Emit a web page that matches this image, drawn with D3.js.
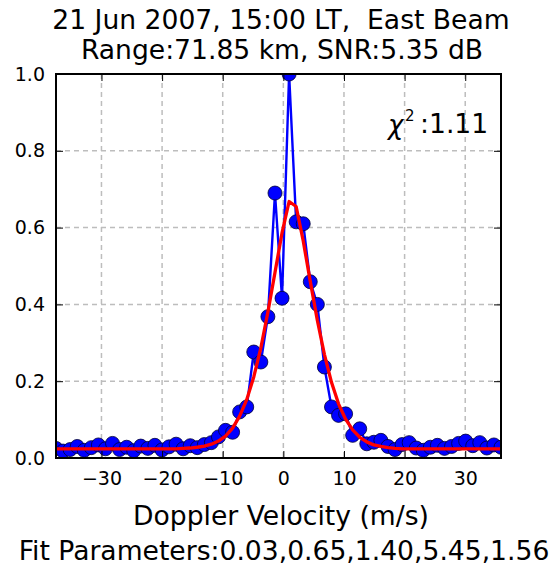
<!DOCTYPE html>
<html>
<head>
<meta charset="utf-8">
<script src="https://cdn.jsdelivr.net/npm/d3@7"></script>
<style>
  html, body { margin: 0; padding: 0; background: #fff; }
  svg { display: block; }
  text { font-family: "DejaVu Sans", sans-serif; fill: #000; white-space: pre; }
</style>
</head>
<body>
<div id="chart"></div>
<script>
// ---- data ----
const titleLines = ["21 Jun 2007, 15:00 LT,  East Beam", "Range:71.85 km, SNR:5.35 dB"];
const xLabel = "Doppler Velocity (m/s)";
const fitLabel = "Fit Parameters:0.03,0.65,1.40,5.45,1.56";
const chiValue = "1.11";

const velocity = [
  -37.50, -36.33, -35.17, -34.00, -32.84, -31.67, -30.51, -29.34, -28.18, -27.01,
  -25.85, -24.68, -23.52, -22.35, -21.19, -20.02, -18.86, -17.69, -16.53, -15.36,
  -14.20, -13.03, -11.87, -10.70, -9.54, -8.37, -7.21, -6.04, -4.88, -3.71,
  -2.55, -1.38, -0.22, 0.95, 2.11, 3.28, 4.44, 5.61, 6.77, 7.94,
  9.10, 10.27, 11.43, 12.60, 13.76, 14.93, 16.09, 17.26, 18.42, 19.59,
  20.75, 21.92, 23.08, 24.25, 25.41, 26.58, 27.74, 28.91, 30.07, 31.24,
  32.40, 33.57, 34.73, 35.90
];
const power = [
  0.025, 0.018, 0.022, 0.030, 0.020, 0.027, 0.034, 0.024, 0.038, 0.022,
  0.028, 0.019, 0.031, 0.025, 0.033, 0.021, 0.029, 0.036, 0.024, 0.032,
  0.027, 0.035, 0.040, 0.055, 0.072, 0.067, 0.120, 0.133, 0.276, 0.250,
  0.368, 0.690, 0.416, 1.000, 0.615, 0.610, 0.459, 0.400, 0.237, 0.133,
  0.111, 0.115, 0.059, 0.076, 0.037, 0.041, 0.046, 0.030, 0.022, 0.035,
  0.040, 0.026, 0.020, 0.028, 0.033, 0.025, 0.030, 0.038, 0.044, 0.032,
  0.040, 0.026, 0.034, 0.028
];
const fitCurve = [
  0.024, 0.024, 0.024, 0.024, 0.024, 0.024, 0.024, 0.024, 0.024, 0.024,
  0.024, 0.024, 0.024, 0.024, 0.024, 0.024, 0.024, 0.024, 0.025, 0.026,
  0.028, 0.031, 0.036, 0.044, 0.057, 0.078, 0.109, 0.152, 0.211, 0.287,
  0.380, 0.483, 0.586, 0.668, 0.655, 0.565, 0.460, 0.358, 0.270, 0.197,
  0.141, 0.101, 0.073, 0.054, 0.042, 0.034, 0.030, 0.027, 0.025, 0.024,
  0.024, 0.024, 0.024, 0.024, 0.024, 0.024, 0.024, 0.024, 0.024, 0.024,
  0.024, 0.024, 0.024, 0.024
];
const xTicks = [-30, -20, -10, 0, 10, 20, 30];
const yTicks = [0.0, 0.2, 0.4, 0.6, 0.8, 1.0];
const xDomain = [-37.5, 35.9];
const yDomain = [0, 1];

// ---- layout ----
const W = 558, H = 567;
const L = 56, R = 501, T = 74, B = 458;

const svg = d3.select("#chart").append("svg").attr("width", W).attr("height", H);

const x = d3.scaleLinear().domain(xDomain).range([L, R]);
const y = d3.scaleLinear().domain(yDomain).range([B, T]);

svg.append("defs").append("clipPath").attr("id", "clip")
  .append("rect").attr("x", L).attr("y", T).attr("width", R - L).attr("height", B - T);

// grid
const grid = svg.append("g").attr("clip-path", "url(#clip)")
  .attr("stroke", "#bdbdbd").attr("stroke-width", 1.5).attr("stroke-dasharray", "5,4");
grid.selectAll("line.vx").data(xTicks).join("line")
  .attr("x1", d => x(d)).attr("x2", d => x(d)).attr("y1", T).attr("y2", B);
grid.selectAll("line.hy").data(yTicks).join("line")
  .attr("y1", d => y(d)).attr("y2", d => y(d)).attr("x1", L).attr("x2", R);

const data = velocity.map((v, i) => ({v, p: power[i], f: fitCurve[i]}));

const plot = svg.append("g").attr("clip-path", "url(#clip)");
plot.append("path").datum(data)
  .attr("fill", "none").attr("stroke", "#0000ff").attr("stroke-width", 2.4)
  .attr("stroke-linejoin", "round")
  .attr("d", d3.line().x(d => x(d.v)).y(d => y(d.p)));
plot.selectAll("circle").data(data).join("circle")
  .attr("cx", d => x(d.v)).attr("cy", d => y(d.p)).attr("r", 7)
  .attr("fill", "#0000ff").attr("stroke", "#000033").attr("stroke-width", 0.8);
plot.append("path").datum(data)
  .attr("fill", "none").attr("stroke", "#ff0000").attr("stroke-width", 3.3)
  .attr("stroke-linejoin", "round")
  .attr("d", d3.line().x(d => x(d.v)).y(d => y(d.f)));

// axes (inward ticks on all sides)
const fmtX = d3.format("d");
const fmtY = d3.format(".1f");
const axB = svg.append("g").attr("transform", `translate(0,${B})`)
  .call(d3.axisBottom(x).tickValues(xTicks).tickSizeInner(-7).tickSizeOuter(0).tickPadding(14).tickFormat(fmtX));
const axT = svg.append("g").attr("transform", `translate(0,${T})`)
  .call(d3.axisTop(x).tickValues(xTicks).tickSizeInner(-7).tickSizeOuter(0).tickFormat(""));
const axL = svg.append("g").attr("transform", `translate(${L},0)`)
  .call(d3.axisLeft(y).tickValues(yTicks).tickSizeInner(-7).tickSizeOuter(0).tickPadding(11).tickFormat(fmtY));
const axR = svg.append("g").attr("transform", `translate(${R},0)`)
  .call(d3.axisRight(y).tickValues(yTicks).tickSizeInner(-7).tickSizeOuter(0).tickFormat(""));
[axB, axT, axL, axR].forEach(g => {
  g.select(".domain").remove();
  g.selectAll(".tick line").attr("stroke", "#000").attr("stroke-width", 1);
  g.selectAll(".tick text").attr("font-family", "DejaVu Sans").attr("font-size", 19).attr("fill", "#111");
});

// frame
svg.append("rect").attr("x", L).attr("y", T).attr("width", R - L).attr("height", B - T)
  .attr("fill", "none").attr("stroke", "#000").attr("stroke-width", 2);

// titles
svg.append("text").attr("x", 281).attr("y", 29).attr("text-anchor", "middle")
  .attr("font-size", 26.6).text(titleLines[0]);
svg.append("text").attr("x", 282).attr("y", 59).attr("text-anchor", "middle")
  .attr("font-size", 26.6).text(titleLines[1]);

svg.append("text").attr("x", 281).attr("y", 525).attr("text-anchor", "middle")
  .attr("font-size", 26.6).text(xLabel);
svg.append("text").attr("x", 284).attr("y", 560).attr("text-anchor", "middle")
  .attr("font-size", 26.6).text(fitLabel);

// chi-square annotation
svg.append("text").attr("x", 388).attr("y", 134)
  .attr("font-family", "DejaVu Serif").attr("font-style", "italic")
  .attr("font-size", 26).attr("fill", "#333").text("χ");
svg.append("text").attr("x", 405).attr("y", 121)
  .attr("font-family", "DejaVu Serif").attr("font-size", 15).attr("fill", "#333").text("2");
svg.append("text").attr("x", 420).attr("y", 133)
  .attr("font-size", 26.6).attr("fill", "#222").text(":" + chiValue);
</script>
</body>
</html>
